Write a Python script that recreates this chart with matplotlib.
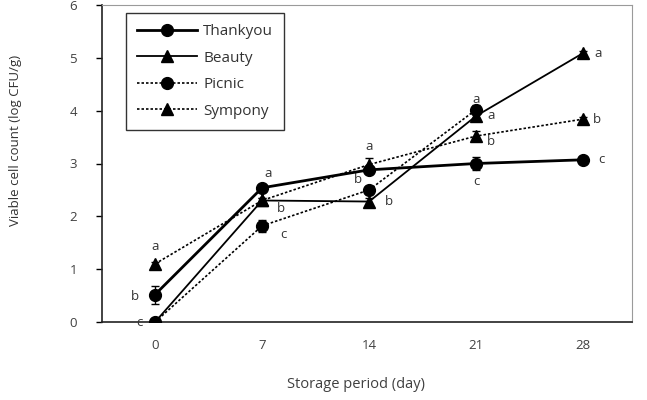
import matplotlib.pyplot as plt
from matplotlib.lines import Line2D

plt.rcParams['font.family'] = ['Open Sans', 'DejaVu Sans']

days = [0, 7, 14, 21, 28]

thankyou = [0.52, 2.54, 2.88, 3.0, 3.07]
thankyou_err = [0.17, 0.06, 0.06, 0.13, 0.03]
beauty = [0.0, 2.3, 2.28, 3.9, 5.09]
beauty_err = [0.02, 0.05, 0.06, 0.08, 0.04]
picnic = [0.0, 1.82, 2.5, 4.02]
picnic_err = [0.02, 0.12, 0.07, 0.08]
sympony = [1.1, 2.3, 2.98, 3.52, 3.84]
sympony_err = [0.04, 0.05, 0.12, 0.09, 0.04]

# significance letters: (day, y value, letter, dx in days, dy in log units)
letters = [
    (0, 1.1, 'a', 0.0, 0.33),
    (0, 0.52, 'b', -1.3, -0.04),
    (0, 0.0, 'c', -1.0, 0.0),
    (7, 2.54, 'a', 0.4, 0.27),
    (7, 2.3, 'b', 1.2, -0.15),
    (7, 1.82, 'c', 1.4, -0.17),
    (14, 2.98, 'a', 0.0, 0.35),
    (14, 2.5, 'b', -0.7, 0.2),
    (14, 2.28, 'b', 1.3, 0.0),
    (21, 4.02, 'a', 0.0, 0.2),
    (21, 3.9, 'a', 1.0, 0.0),
    (21, 3.52, 'b', 1.0, -0.1),
    (21, 3.0, 'c', 0.0, -0.35),
    (28, 5.09, 'a', 1.0, 0.0),
    (28, 3.84, 'b', 0.9, 0.0),
    (28, 3.07, 'c', 1.2, 0.0),
]

fig = plt.figure(figsize=(6.47, 4.0), dpi=100)
ax = fig.add_axes([0.1577, 0.195, 0.8192, 0.7925])

dot = (0, (1.5, 1.2))
styles = {
    'Thankyou': dict(lw=2.0, ls='-', marker='o'),
    'Beauty': dict(lw=1.3, ls='-', marker='^'),
    'Picnic': dict(lw=1.2, ls=dot, marker='o'),
    'Sympony': dict(lw=1.2, ls=dot, marker='^'),
}

ax.errorbar(days, thankyou, yerr=thankyou_err, color='black', ms=8.5, capsize=3,
            elinewidth=1, zorder=4, **styles['Thankyou'])
ax.errorbar(days, beauty, yerr=beauty_err, color='black', ms=8.5, capsize=3,
            elinewidth=1, zorder=4, **styles['Beauty'])
ax.errorbar(days[:len(picnic)], picnic, yerr=picnic_err, color='black', ms=8.5,
            capsize=3, elinewidth=1, zorder=3, **styles['Picnic'])
ax.errorbar(days, sympony, yerr=sympony_err, color='black', ms=8.5, capsize=3,
            elinewidth=1, zorder=3, **styles['Sympony'])

for d, v, t, dx, dy in letters:
    ax.text(d + dx, v + dy, t, ha='center', va='center', fontsize=9.5, color='#333333')

ax.set_xlim(-3.47, 31.2)
ax.set_ylim(0, 6)
ax.set_xticks(days)
ax.set_yticks(range(7))
ax.tick_params(axis='x', length=0, pad=12, labelsize=9.5, labelcolor='#404040')
ax.tick_params(axis='y', length=4, direction='out', width=1, labelsize=9.5,
               labelcolor='#404040', pad=14)
for s in ['top', 'right']:
    ax.spines[s].set_color('#9a9a9a')
for s in ['left', 'bottom']:
    ax.spines[s].set_color('#222222')
    ax.spines[s].set_linewidth(1.2)

handles = [Line2D([], [], color='black', ms=8.5, **st) for st in styles.values()]
leg = ax.legend(handles, list(styles.keys()), loc='upper left',
                bbox_to_anchor=(0.045, 0.975), fancybox=False,
                edgecolor='#333333', framealpha=1, fontsize=11, handlelength=3.9,
                borderpad=0.75, labelspacing=0.75, handletextpad=0.4,
                borderaxespad=0.0)
leg.get_frame().set_linewidth(1.0)
for txt in leg.get_texts():
    txt.set_color('#333333')

fig.text(0.024, 0.65, 'Viable cell count (log CFU/g)', rotation=90, ha='center',
         va='center', fontsize=9.5, color='#333333')
fig.text(0.55, 0.04, 'Storage period (day)', ha='center', va='center',
         fontsize=10.5, color='#404040')

fig.savefig('out.png', dpi=100)
